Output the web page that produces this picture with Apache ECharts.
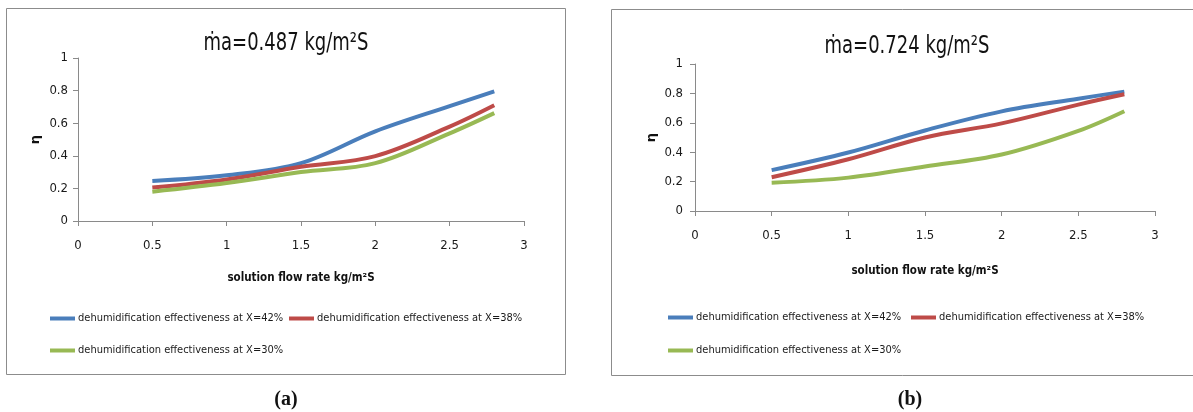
<!DOCTYPE html>
<html>
<head>
<meta charset="utf-8">
<script src="https://cdn.jsdelivr.net/npm/echarts@6/dist/echarts.min.js"></script>
<style>
html,body{margin:0;padding:0;background:#fff;}
#c{width:1193px;height:412px;}
</style>
</head>
<body>
<div id="c"></div>
<script>
// ---- data ----
var xValues = [0.5, 1, 1.5, 2, 2.5, 2.8];
var seriesNames = [
  'dehumidification effectiveness at X=42%',
  'dehumidification effectiveness at X=38%',
  'dehumidification effectiveness at X=30%'
];
// (a) ma = 0.487
var a_X42 = [0.245, 0.28, 0.355, 0.55, 0.705, 0.795];
var a_X38 = [0.205, 0.255, 0.333, 0.398, 0.579, 0.71];
var a_X30 = [0.18, 0.233, 0.30, 0.355, 0.538, 0.662];
// (b) ma = 0.724
var b_X42 = [0.278, 0.398, 0.548, 0.678, 0.764, 0.812];
var b_X38 = [0.23, 0.352, 0.50, 0.596, 0.724, 0.794];
var b_X30 = [0.192, 0.227, 0.303, 0.384, 0.545, 0.679];
var titles = ['\u1E41a=0.487 kg/m\u00B2S', '\u1E41a=0.724 kg/m\u00B2S'];
var xAxisName = 'solution flow rate kg/m\u00B2S';
var yAxisName = '\u03B7';
var captions = ['(a)', '(b)'];

var colors = ['#4A7EBB', '#BE4B48', '#98B954'];
var narrow = '"DejaVu Sans Condensed", "Liberation Sans", sans-serif';

function pairs(ys) { return xValues.map(function (x, i) { return [x, ys[i]]; }); }

var chart = echarts.init(document.getElementById('c'), null, {renderer: 'canvas'});

var grids = [
  {left: 78, top: 58, width: 446, height: 163},
  {left: 695, top: 64, width: 460, height: 147}
];

function xAxisCfg(gi, gap) {
  return {
    gridIndex: gi, type: 'value', min: 0, max: 3, interval: 0.5,
    axisLine: {show: true, lineStyle: {color: '#8a8a8a', width: 1}},
    axisTick: {show: true, inside: false, length: 5, lineStyle: {color: '#8a8a8a'}},
    splitLine: {show: false},
    axisLabel: {color: '#1a1a1a', fontFamily: narrow, fontSize: 13, margin: 18},
    name: xAxisName, nameLocation: 'middle', nameGap: gap,
    nameTextStyle: {color: '#111', fontFamily: narrow, fontSize: 11.5, fontWeight: 'bold'}
  };
}
function yAxisCfg(gi, gap, margin) {
  return {
    gridIndex: gi, type: 'value', min: 0, max: 1, interval: 0.2,
    axisLine: {show: true, lineStyle: {color: '#8a8a8a', width: 1}},
    axisTick: {show: true, inside: false, length: 5, lineStyle: {color: '#8a8a8a'}},
    splitLine: {show: false},
    axisLabel: {color: '#1a1a1a', fontFamily: narrow, fontSize: 13, margin: margin},
    name: yAxisName, nameLocation: 'middle', nameGap: gap, nameRotate: 90,
    nameTextStyle: {color: '#111', fontFamily: 'DejaVu Sans, sans-serif', fontSize: 13, fontWeight: 'bold'}
  };
}

var dataSets = [[a_X42, a_X38, a_X30], [b_X42, b_X38, b_X30]];
var series = [];
dataSets.forEach(function (set, gi) {
  set.forEach(function (ys, si) {
    series.push({
      type: 'line', name: seriesNames[si], xAxisIndex: gi, yAxisIndex: gi,
      data: pairs(ys), smooth: 0.35, showSymbol: false, symbol: 'none',
      lineStyle: {width: 4, color: colors[si]}, itemStyle: {color: colors[si]},
      animation: false
    });
  });
});

function legendCfg(name, left, cy) {
  return {
    data: [name], left: left, top: cy - 5, padding: 0,
    icon: 'rect', itemWidth: 25, itemHeight: 4, selectedMode: false,
    textStyle: {color: '#1a1a1a', fontFamily: narrow, fontSize: 11, padding: [0, 0, 0, -2]}
  };
}

var legends = [
  legendCfg(seriesNames[0], 50, 318),
  legendCfg(seriesNames[1], 289, 318),
  legendCfg(seriesNames[2], 50, 350),
  legendCfg(seriesNames[0], 668, 317),
  legendCfg(seriesNames[1], 911, 317),
  legendCfg(seriesNames[2], 668, 350)
];

var graphics = [
  {type: 'rect', shape: {x: 6.5, y: 8.5, width: 559, height: 366}, style: {fill: 'none', stroke: '#8c8c8c', lineWidth: 1}, z: -1},
  {type: 'rect', shape: {x: 611.5, y: 9.5, width: 600, height: 366}, style: {fill: 'none', stroke: '#8c8c8c', lineWidth: 1}, z: -1},
  {type: 'text', x: 286, y: 43, scaleX: 0.8, style: {text: titles[0], font: '25px ' + narrow, fill: '#111', textAlign: 'center', textVerticalAlign: 'middle'}},
  {type: 'text', x: 907, y: 46, scaleX: 0.8, style: {text: titles[1], font: '25px ' + narrow, fill: '#111', textAlign: 'center', textVerticalAlign: 'middle'}},
  {type: 'text', x: 286, y: 400, style: {text: captions[0], font: 'bold 20px "Liberation Serif", "Times New Roman", serif', fill: '#111', textAlign: 'center', textVerticalAlign: 'middle'}},
  {type: 'text', x: 910, y: 400, style: {text: captions[1], font: 'bold 20px "Liberation Serif", "Times New Roman", serif', fill: '#111', textAlign: 'center', textVerticalAlign: 'middle'}}
];

chart.setOption({
  backgroundColor: '#ffffff',
  animation: false,
  grid: grids,
  xAxis: [xAxisCfg(0, 51), xAxisCfg(1, 54)],
  yAxis: [yAxisCfg(0, 36, 10), yAxisCfg(1, 37, 12)],
  legend: legends,
  series: series,
  graphic: graphics
});
</script>
</body>
</html>
